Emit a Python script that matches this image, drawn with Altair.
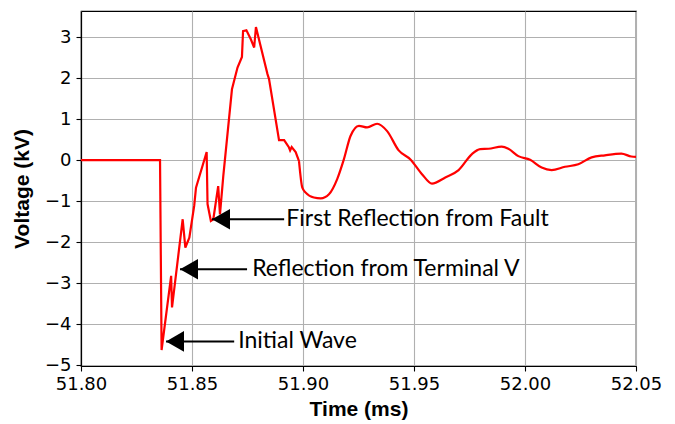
import altair as alt
import pandas as pd

time_ms = [51.8000, 51.8356, 51.8363, 51.8406, 51.8410, 51.8458, 51.8470, 51.8488,
           51.8510, 51.8518, 51.8566, 51.8570, 51.8585, 51.8596, 51.8618, 51.8626,
           51.8641, 51.8680, 51.8705, 51.8725, 51.8730, 51.8745, 51.8765, 51.8780,
           51.8788, 51.8840, 51.8847, 51.8892, 51.8915, 51.8937, 51.8942, 51.8949,
           51.8967, 51.8982, 51.8997, 51.9012, 51.9049, 51.9080, 51.9117, 51.9154,
           51.9184, 51.9214, 51.9252, 51.9289, 51.9334, 51.9379, 51.9431, 51.9484,
           51.9536, 51.9581, 51.9641, 51.9701, 51.9761, 51.9798, 51.9836, 51.9895,
           51.9925, 51.9970, 52.0023, 52.0075, 52.0120, 52.0180, 52.0240, 52.0300,
           52.0360, 52.0434, 52.0479, 52.0500]
voltage_kv = [0.00, 0.00, -4.63, -2.82, -3.59, -1.44, -2.13, -1.89,
              -1.11, -0.67, 0.20, -1.07, -1.48, -1.44, -0.63, -1.32,
              -0.38, 1.73, 2.26, 2.52, 3.15, 3.17, 2.95, 2.75,
              3.25, 2.10, 1.98, 0.49, 0.49, 0.31, 0.24, 0.32,
              0.20, -0.02, -0.67, -0.79, -0.91, -0.93, -0.83, -0.46,
              0.02, 0.59, 0.84, 0.80, 0.89, 0.71, 0.24, 0.02,
              -0.34, -0.57, -0.42, -0.24, 0.15, 0.27, 0.28, 0.33,
              0.28, 0.10, 0.01, -0.18, -0.24, -0.16, -0.10, 0.07,
              0.12, 0.16, 0.09, 0.08]

ann_text = ["First Reflection from Fault", "Reflection from Terminal V", "Initial Wave"]
ann_tip_t = [51.8590, 51.8446, 51.8383]
ann_tail_t = [51.8915, 51.8748, 51.8690]
ann_text_t = [51.8925, 51.8771, 51.8708]
ann_v = [-1.44, -2.66, -4.42]

wave = pd.DataFrame({"t": time_ms, "v": voltage_kv})
split = 51.8982
wave_a = wave[wave["t"] <= split]
wave_b = wave[wave["t"] >= split]
ann = pd.DataFrame({"label": ann_text, "tip": ann_tip_t, "tail": ann_tail_t,
                    "tx": ann_text_t, "v": ann_v})

xscale = alt.Scale(domain=[51.80, 52.05], nice=False, zero=False)
yscale = alt.Scale(domain=[-5.02, 3.64], nice=False, zero=False)

xaxis = alt.Axis(title="Time (ms)", values=[51.80, 51.85, 51.90, 51.95, 52.00, 52.05],
                 format=".2f", grid=True, gridColor="#b0b0b0", gridWidth=1.1,
                 labelFlush=False, labelOverlap=False)
yaxis = alt.Axis(title="Voltage (kV)", values=[-5, -4, -3, -2, -1, 0, 1, 2, 3], format="d",
                 grid=True, gridColor="#b0b0b0", gridWidth=1.1,
                 labelFlush=False, labelOverlap=False)

line_a = alt.Chart(wave_a).mark_line(color="#ff0000", strokeWidth=2.2).encode(
    x=alt.X("t:Q", scale=xscale, axis=xaxis),
    y=alt.Y("v:Q", scale=yscale, axis=yaxis),
)
line_b = alt.Chart(wave_b).mark_line(color="#ff0000", strokeWidth=2.2,
                                     interpolate="monotone").encode(
    x=alt.X("t:Q", scale=xscale), y=alt.Y("v:Q", scale=yscale)
)

shafts = alt.Chart(ann).mark_rule(color="black", strokeWidth=2).encode(
    x=alt.X("tip:Q", scale=xscale), x2="tail:Q", y=alt.Y("v:Q", scale=yscale)
)

heads = alt.Chart(ann).mark_point(
    shape="M0,0L2,-1.15L2,1.15Z", size=324, filled=True, color="black", opacity=1
).encode(x=alt.X("tip:Q", scale=xscale), y=alt.Y("v:Q", scale=yscale))

texts = alt.Chart(ann).mark_text(
    align="left", baseline="middle", font="Lato", fontSize=23, color="black"
).encode(x=alt.X("tx:Q", scale=xscale), y=alt.Y("v:Q", scale=yscale), text="label:N")

chart = alt.layer(line_a, line_b, shafts, heads, texts).properties(
    width=555, height=355,
    autosize=alt.AutoSizeParams(type="none"),
    padding={"left": 73, "top": 3, "right": 31, "bottom": 58},
).configure_view(
    stroke="black", strokeWidth=1.2
).configure_axis(
    domainColor="black", domainWidth=1.2,
    tickColor="black", tickSize=5, tickWidth=1.1,
    labelFont="DejaVu Sans", labelFontSize=18, labelColor="black",
    titleFont="Liberation Sans", titleFontSize=21, titleFontWeight="bold", titleColor="black",
).configure_axisX(
    labelPadding=4, titlePadding=5
).configure_axisY(
    labelPadding=5, titlePadding=12
)

chart.save("out.html", embed_options={"renderer": "svg", "actions": False})
